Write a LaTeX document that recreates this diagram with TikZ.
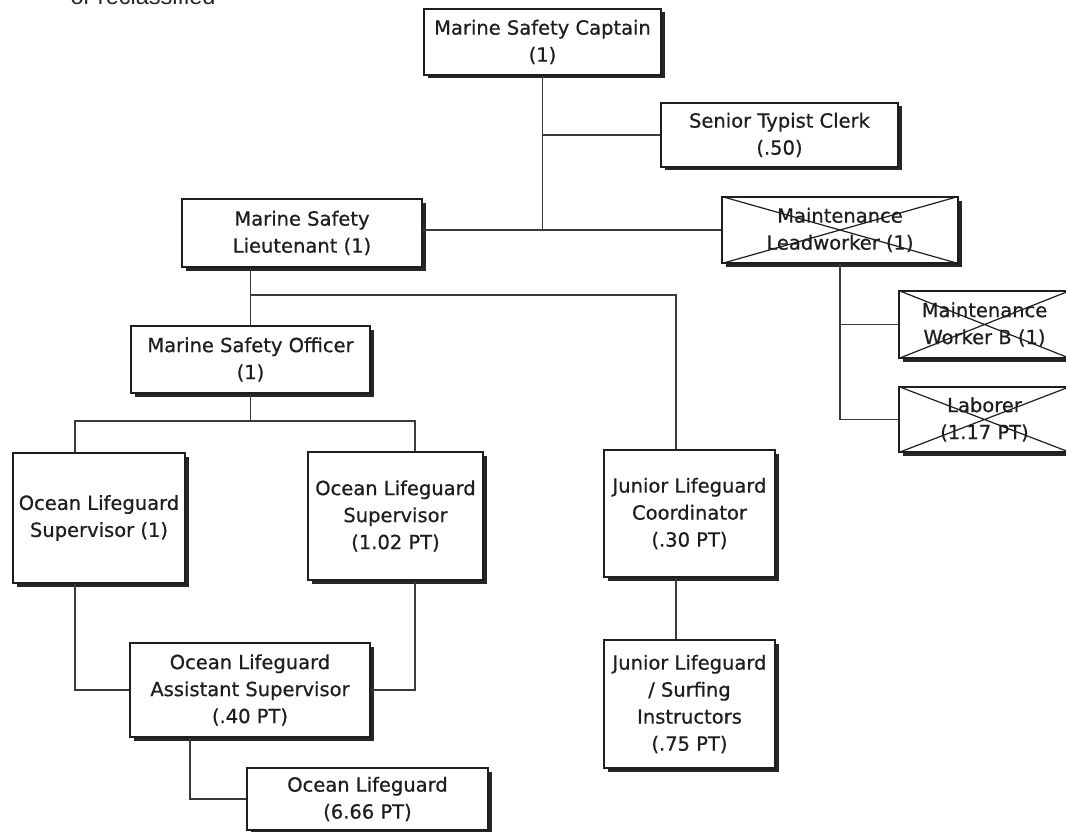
\documentclass[tikz,border=0pt]{standalone}
\usepackage{fontspec}
\newfontfamily\boxfont[FakeBold=0.6]{DejaVu Sans}
\newfontfamily\notefont{Liberation Sans}
\usetikzlibrary{shadows}
\definecolor{ink}{HTML}{1E1E1E}
\definecolor{linec}{HTML}{3A3A3A}
\tikzset{
  orgbox/.style={draw=ink, line width=1.2pt, fill=white, rectangle, inner sep=0pt,
    align=center, text=ink, font=\boxfont\fontsize{19.5}{27}\selectfont,
    drop shadow={shadow xshift=3.5pt, shadow yshift=-3.5pt, opacity=1, fill=black!85}},
  conn/.style={draw=linec, line width=1.3pt},
  crossline/.style={draw=ink, line width=1.2pt},
}
\begin{document}
\begin{tikzpicture}[x=1pt,y=-1pt]
\useasboundingbox (0,0) rectangle (1066,832);
\fill[white] (0,0) rectangle (1066,832);

\node[anchor=base west, text=black!85, font=\notefont\fontsize{23.5}{28}\selectfont] (note) at (67,5) {or reclassified};

% boxes
\node[orgbox, minimum width=237pt, minimum height=66pt] (cap) at (542.5,42) {Marine Safety Captain\\(1)};
\node[orgbox, minimum width=237pt, minimum height=64pt] (sen) at (779.5,135) {Senior Typist Clerk\\(.50)};
\node[orgbox, minimum width=240pt, minimum height=68pt] (lt) at (302,233) {Marine Safety\\Lieutenant (1)};
\node[orgbox, minimum width=236pt, minimum height=66pt] (lw) at (840,230) {Maintenance\\Leadworker (1)};
\node[orgbox, minimum width=171pt, minimum height=67pt] (mwb) at (984.5,324.5) {Maintenance\\Worker B (1)};
\node[orgbox, minimum width=171pt, minimum height=65pt] (lab) at (984.5,419.5) {Laborer\\(1.17 PT)};
\node[orgbox, minimum width=239pt, minimum height=67pt] (off) at (250.5,359.5) {Marine Safety Officer\\(1)};
\node[orgbox, minimum width=172pt, minimum height=130pt] (ols1) at (99,518) {Ocean Lifeguard\\Supervisor (1)};
\node[orgbox, minimum width=175pt, minimum height=128pt] (ols2) at (395.5,516) {Ocean Lifeguard\\Supervisor\\(1.02 PT)};
\node[orgbox, minimum width=240pt, minimum height=94pt] (asst) at (250,690) {Ocean Lifeguard\\Assistant Supervisor\\(.40 PT)};
\node[orgbox, minimum width=241pt, minimum height=62pt] (ol) at (367.5,799) {Ocean Lifeguard\\(6.66 PT)};
\node[orgbox, minimum width=171pt, minimum height=127pt] (jc) at (689.5,513.5) {Junior Lifeguard\\Coordinator\\(.30 PT)};
\node[orgbox, minimum width=171pt, minimum height=128pt] (ji) at (689.5,704) {Junior Lifeguard\\/ Surfing\\Instructors\\(.75 PT)};

% crosses over eliminated positions
\foreach \n in {lw,mwb,lab}{
  \draw[crossline] (\n.south west) -- (\n.north east) (\n.north west) -- (\n.south east);
}

% junction coordinates
\coordinate (b1) at (75,421);
\coordinate (b2) at (415,421);
\coordinate (b3) at (190,760);
\coordinate (b4) at (676,295);

% connectors
\draw[conn] (cap.south) -- (cap.south |- lw.west);
\draw[conn] (cap.south |- sen.west) -- (sen.west);
\draw[conn] (lt.east |- lw.west) -- (lw.west);
\draw[conn] (off.north |- lt.south) -- (off.north);
\draw[conn] (off.north |- b4) -- (b4) -- (b4 |- jc.north);
\draw[conn] (b4 |- jc.south) -- (b4 |- ji.north);
\draw[conn] (off.south) -- (off.south |- b1);
\draw[conn] (b1 |- ols1.north) -- (b1) -- (b2) -- (b2 |- ols2.north);
\draw[conn] (b1 |- ols1.south) -- (b1 |- asst.west) -- (asst.west);
\draw[conn] (b2 |- ols2.south) -- (b2 |- asst.east) -- (asst.east);
\draw[conn] (b3 |- asst.south) -- (b3 |- ol.west) -- (ol.west);
\draw[conn] (lw.south) -- (lw.south |- lab.west) -- (lab.west);
\draw[conn] (lw.south |- mwb.west) -- (mwb.west);
\end{tikzpicture}
\end{document}
